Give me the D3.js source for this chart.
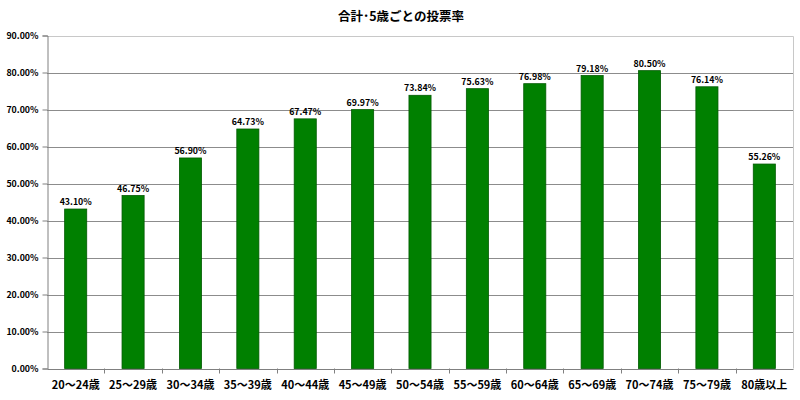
<!DOCTYPE html>
<html><head><meta charset="utf-8">
<script src="https://cdn.jsdelivr.net/npm/d3@7"></script>
<style>body{margin:0;background:#fff}svg{display:block}text{font-family:"Noto Sans CJK JP","Liberation Sans",sans-serif;font-weight:bold;fill:#000}</style>
</head><body>
<svg id="c" width="800" height="400"></svg>
<script>
const categories = ["20～24歳","25～29歳","30～34歳","35～39歳","40～44歳","45～49歳","50～54歳","55～59歳","60～64歳","65～69歳","70～74歳","75～79歳","80歳以上"];
const values = [43.10,46.75,56.90,64.73,67.47,69.97,73.84,75.63,76.98,79.18,80.50,76.14,55.26];
const yTicks = [0,10,20,30,40,50,60,70,80,90];
const title = "合計･5歳ごとの投票率";

const svg = d3.select("#c");
const m = {l:47, r:793, t:35.5, b:368.5};
const x = d3.scaleBand().domain(categories).range([m.l, m.r]).paddingInner(0.615).paddingOuter(0.3075);
const xb = d3.scaleBand().domain(categories).range([m.l, m.r]);
const y = d3.scaleLinear().domain([0,90]).range([m.b, m.t]);

svg.append("text").attr("x",401).attr("y",21).attr("text-anchor","middle").style("font-size","12.5px").text(title);

// gridlines
svg.append("g").selectAll("line").data(yTicks.filter(d=>d>0)).join("line")
  .attr("x1",m.l).attr("x2",m.r).attr("y1",d=>Math.round(y(d))+0.5).attr("y2",d=>Math.round(y(d))+0.5)
  .attr("stroke","#8c8c8c").attr("stroke-width",1);
// plot border top/right
svg.append("path").attr("d",`M${m.l},${Math.round(m.t)+0.5}H${m.r+0.5}V${m.b}`).attr("fill","none").attr("stroke","#c8c8c8");

// bars
svg.append("g").selectAll("rect").data(values).join("rect")
  .attr("x",(d,i)=>x(categories[i])).attr("width",x.bandwidth())
  .attr("y",d=>y(d)).attr("height",d=>m.b-y(d))
  .attr("fill","#008000").attr("stroke","#005a00").attr("stroke-width",0.8);

// value labels
svg.append("g").selectAll("text").data(values).join("text")
  .attr("x",(d,i)=>x(categories[i])+x.bandwidth()/2).attr("y",d=>y(d)-4)
  .attr("text-anchor","middle").style("font-size","8.8px")
  .text(d=>d.toFixed(2)+"%");

// y axis
const ya = svg.append("g").attr("transform",`translate(${m.l+0.5},0)`)
  .call(d3.axisLeft(y).tickValues(yTicks).tickSize(5).tickFormat(d=>d.toFixed(2)+"%"));
ya.select(".domain").attr("stroke","#808080");
ya.selectAll(".tick line").attr("stroke","#808080");
ya.selectAll("text").style("font-size","8.8px").attr("x",-9).attr("font-family",null).attr("font-weight",null);

// x axis
const xa = svg.append("g").attr("transform",`translate(0,${m.b+0.5})`)
  .call(d3.axisBottom(xb).tickSize(0).tickSizeOuter(0));
xa.select(".domain").attr("stroke","#808080");
xa.selectAll("text").style("font-size","11px").attr("dy","1.5em").attr("font-family",null);
// boundary ticks
svg.append("g").selectAll("line").data(categories.slice(1)).join("line")
  .attr("x1",d=>Math.round(xb(d))+0.5).attr("x2",d=>Math.round(xb(d))+0.5)
  .attr("y1",m.b).attr("y2",m.b+5).attr("stroke","#808080");
</script>
</body></html>
